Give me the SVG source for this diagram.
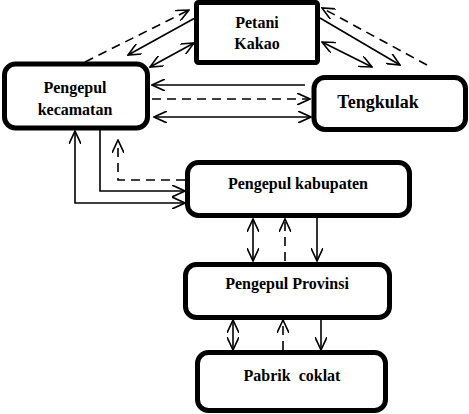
<svg xmlns="http://www.w3.org/2000/svg" width="469" height="414" viewBox="0 0 469 414">
<defs>
<style>
.box{fill:#fff;stroke:#000;stroke-width:5}
.t{font-family:"Liberation Serif","Times New Roman",serif;font-weight:bold;font-size:16px;fill:#000;text-anchor:middle}
.c{fill:none;stroke:#000;stroke-width:1.6}
.d{stroke-dasharray:9 6}
</style>
<marker id="ah" viewBox="0 0 14 12" refX="13" refY="6" markerWidth="14" markerHeight="12" markerUnits="userSpaceOnUse" orient="auto-start-reverse">
<path d="M0,0 L13,6 L0,12" fill="none" stroke="#000" stroke-width="1.6"/>
</marker>
</defs>
<rect width="469" height="414" fill="#fff"/>
<g id="connectors">
<!-- Petani <-> kecamatan -->
<line class="c d" x1="85" y1="62" x2="189" y2="10" marker-end="url(#ah)"/>
<line class="c" x1="195" y1="18" x2="128" y2="55" marker-end="url(#ah)"/>
<line class="c" x1="150" y1="67" x2="194" y2="43" marker-start="url(#ah)" marker-end="url(#ah)"/>
<!-- Petani <-> Tengkulak -->
<line class="c d" x1="427" y1="65" x2="322" y2="8" marker-end="url(#ah)"/>
<line class="c" x1="320" y1="18" x2="400" y2="65" marker-end="url(#ah)"/>
<line class="c" x1="322" y1="42" x2="372" y2="67" marker-start="url(#ah)" marker-end="url(#ah)"/>
<!-- kecamatan <-> Tengkulak -->
<line class="c" x1="305" y1="85" x2="152" y2="85" marker-end="url(#ah)"/>
<line class="c d" x1="152" y1="99" x2="310" y2="99" marker-end="url(#ah)"/>
<line class="c" x1="154" y1="117" x2="311" y2="117" marker-start="url(#ah)" marker-end="url(#ah)"/>
<!-- kecamatan <-> kabupaten -->
<polyline class="c" points="75,131 75,203 185,203" marker-start="url(#ah)" marker-end="url(#ah)"/>
<polyline class="c" points="100,130 100,191 185,191" marker-end="url(#ah)"/>
<polyline class="c d" points="185,180 118,180 118,140" marker-end="url(#ah)"/>
<!-- kabupaten <-> Provinsi -->
<line class="c" x1="253" y1="219" x2="253" y2="261" marker-start="url(#ah)" marker-end="url(#ah)"/>
<line class="c d" x1="285" y1="261" x2="285" y2="219" marker-end="url(#ah)"/>
<line class="c" x1="317" y1="218" x2="317" y2="261" marker-end="url(#ah)"/>
<!-- Provinsi <-> Pabrik -->
<line class="c" x1="233" y1="320" x2="233" y2="350" marker-start="url(#ah)" marker-end="url(#ah)"/>
<line class="c d" x1="283" y1="350" x2="283" y2="320" marker-end="url(#ah)"/>
<line class="c" x1="321" y1="319" x2="321" y2="350" marker-end="url(#ah)"/>
</g>
<g id="petani">
<rect class="box" x="196.5" y="2.5" width="121" height="60" rx="2"/>
<text class="t" x="257" y="28">Petani</text>
<text class="t" x="257" y="49">Kakao</text>
</g>
<g id="kecamatan">
<rect class="box" x="4.5" y="64" width="143" height="64" rx="11"/>
<text class="t" x="75" y="93">Pengepul</text>
<text class="t" x="75" y="115">kecamatan</text>
</g>
<g id="tengkulak">
<rect class="box" x="314" y="77.5" width="151.5" height="52" rx="11"/>
<text class="t" x="378" y="108" style="font-size:18px">Tengkulak</text>
</g>
<g id="kabupaten">
<rect class="box" x="187.5" y="162.5" width="222" height="53" rx="11"/>
<text class="t" x="298" y="189">Pengepul kabupaten</text>
</g>
<g id="provinsi">
<rect class="box" x="185.5" y="264.5" width="204" height="53" rx="11"/>
<text class="t" x="287" y="289">Pengepul Provinsi</text>
</g>
<g id="pabrik">
<rect class="box" x="197.5" y="352.5" width="188" height="58" rx="11"/>
<text class="t" x="292" y="381" style="word-spacing:4px">Pabrik coklat</text>
</g>
</svg>
